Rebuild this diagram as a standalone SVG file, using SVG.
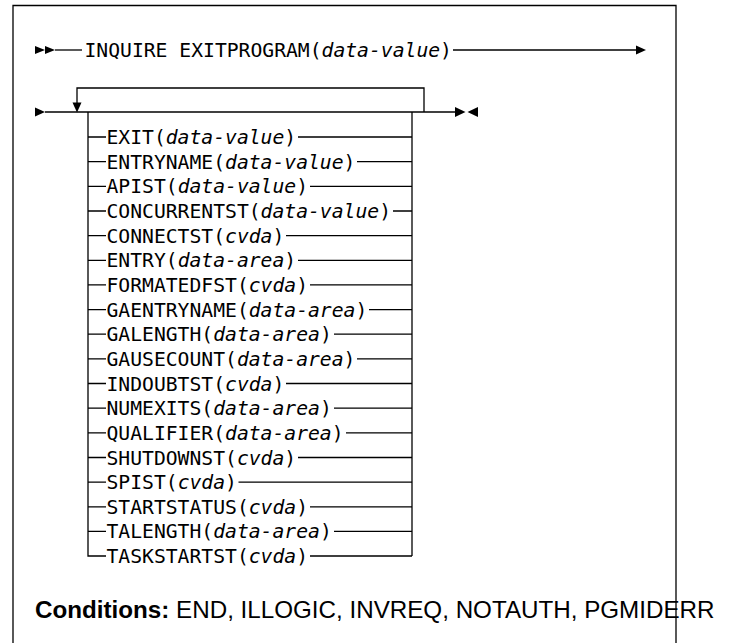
<svg xmlns="http://www.w3.org/2000/svg" width="734" height="643" viewBox="0 0 734 643">
<style>
.ln{stroke:#000;stroke-width:1.3;fill:none}
.ah{fill:#000;stroke:none}
.kw{font-family:"DejaVu Sans Mono","Liberation Mono",monospace;font-size:19.7px;fill:#000}
.it{font-style:italic}
.cond{font-family:"Liberation Sans",Arial,Helvetica,sans-serif;font-size:24.2px;fill:#000}
</style>
<rect width="734" height="643" fill="#fff"/>
<g id="frame">
<path class="ln" d="M13,643 V5.5 H676 V643"/>
</g>
<g id="connectors">
<polygon class="ah" points="35,46 45,50 35,54"/>
<polygon class="ah" points="45,46 55,50 45,54"/>
<line class="ln" x1="55" y1="50" x2="82" y2="50"/>
<line class="ln" x1="453" y1="50" x2="637" y2="50"/>
<polygon class="ah" points="636,45.5 646,50 636,54.5"/>
<polygon class="ah" points="35,107.5 45,112 35,116.5"/>
<line class="ln" x1="45" y1="112" x2="456" y2="112"/>
<path class="ln" d="M77,104 V88 H424 V112"/>
<polygon class="ah" points="72.5,102.5 81.5,102.5 77,112.5"/>
<polygon class="ah" points="455,107 465.5,112 455,117"/>
<polygon class="ah" points="478,107 467.5,112 478,117"/>
<path class="ln" d="M88,112 V556 H106"/>
<path class="ln" d="M412,112 V556"/>
<path class="ln" d="M88,137 H106 M88,161.7 H106 M88,186.3 H106 M88,211 H106 M88,235.6 H106 M88,260.3 H106 M88,284.9 H106 M88,309.6 H106 M88,334.2 H106 M88,358.9 H106 M88,383.5 H106 M88,408.2 H106 M88,432.8 H106 M88,457.5 H106 M88,482.1 H106 M88,506.8 H106 M88,531.4 H106"/>
<path class="ln" d="M298,137 H412 M357,161.7 H412 M310,186.3 H412 M393,211 H412 M286,235.6 H412 M298,260.3 H412 M310,284.9 H412 M369,309.6 H412 M334,334.2 H412 M357,358.9 H412 M286,383.5 H412 M334,408.2 H412 M346,432.8 H412 M298,457.5 H412 M238.5,482.1 H412 M310,506.8 H412 M334,531.4 H412 M310,556 H412"/>
</g>
<g id="command"><text class="kw" x="84.5" y="57">INQUIRE EXITPROGRAM(<tspan class="it">data-value</tspan>)</text></g>
<g id="n-exit"><text class="kw" x="106.5" y="144">EXIT(<tspan class="it">data-value</tspan>)</text></g>
<g id="n-entryname"><text class="kw" x="106.5" y="168.7">ENTRYNAME(<tspan class="it">data-value</tspan>)</text></g>
<g id="n-apist"><text class="kw" x="106.5" y="193.3">APIST(<tspan class="it">data-value</tspan>)</text></g>
<g id="n-concurrentst"><text class="kw" x="106.5" y="218">CONCURRENTST(<tspan class="it">data-value</tspan>)</text></g>
<g id="n-connectst"><text class="kw" x="106.5" y="242.6">CONNECTST(<tspan class="it">cvda</tspan>)</text></g>
<g id="n-entry"><text class="kw" x="106.5" y="267.3">ENTRY(<tspan class="it">data-area</tspan>)</text></g>
<g id="n-formatedfst"><text class="kw" x="106.5" y="291.9">FORMATEDFST(<tspan class="it">cvda</tspan>)</text></g>
<g id="n-gaentryname"><text class="kw" x="106.5" y="316.6">GAENTRYNAME(<tspan class="it">data-area</tspan>)</text></g>
<g id="n-galength"><text class="kw" x="106.5" y="341.2">GALENGTH(<tspan class="it">data-area</tspan>)</text></g>
<g id="n-gausecount"><text class="kw" x="106.5" y="365.9">GAUSECOUNT(<tspan class="it">data-area</tspan>)</text></g>
<g id="n-indoubtst"><text class="kw" x="106.5" y="390.5">INDOUBTST(<tspan class="it">cvda</tspan>)</text></g>
<g id="n-numexits"><text class="kw" x="106.5" y="415.2">NUMEXITS(<tspan class="it">data-area</tspan>)</text></g>
<g id="n-qualifier"><text class="kw" x="106.5" y="439.8">QUALIFIER(<tspan class="it">data-area</tspan>)</text></g>
<g id="n-shutdownst"><text class="kw" x="106.5" y="464.5">SHUTDOWNST(<tspan class="it">cvda</tspan>)</text></g>
<g id="n-spist"><text class="kw" x="106.5" y="489.1">SPIST(<tspan class="it">cvda</tspan>)</text></g>
<g id="n-startstatus"><text class="kw" x="106.5" y="513.8">STARTSTATUS(<tspan class="it">cvda</tspan>)</text></g>
<g id="n-talength"><text class="kw" x="106.5" y="538.4">TALENGTH(<tspan class="it">data-area</tspan>)</text></g>
<g id="n-taskstartst"><text class="kw" x="106.5" y="563">TASKSTARTST(<tspan class="it">cvda</tspan>)</text></g>
<g id="conditions"><text class="cond" x="35" y="618"><tspan font-weight="bold">Conditions:</tspan> END, ILLOGIC, INVREQ, NOTAUTH, PGMIDERR</text></g>
</svg>
